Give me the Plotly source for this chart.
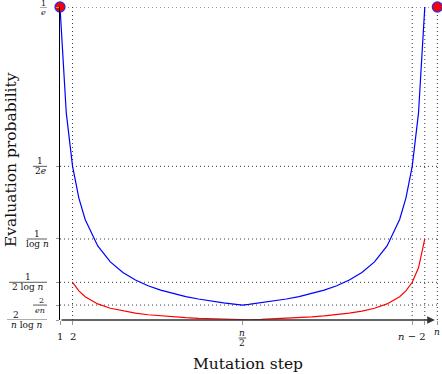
import plotly.graph_objects as go

# mutation steps (n = 31, "log n" drawn as 10)
steps_blue = [1, 1.5, 2, 2.5, 3, 4, 5, 6, 7, 8, 9, 10, 11, 12, 13, 14, 15, 15.5,
              16, 17, 18, 19, 20, 21, 22, 23, 24, 25, 26, 27, 28, 28.5, 29, 29.5, 30]
prob_blue = [0.3679, 0.2453, 0.1839, 0.1472, 0.1226, 0.0920, 0.0736, 0.0613, 0.0526,
             0.0460, 0.0409, 0.0368, 0.0334, 0.0307, 0.0283, 0.0263, 0.0245, 0.0237,
             0.0245, 0.0263, 0.0283, 0.0307, 0.0334, 0.0368, 0.0409, 0.0460, 0.0526,
             0.0613, 0.0736, 0.0920, 0.1226, 0.1472, 0.1839, 0.2453, 0.3679]

steps_red = [2, 2.5, 3, 4, 5, 6, 7, 8, 9, 10, 11, 12, 13, 14, 15, 15.5,
             16, 17, 18, 19, 20, 21, 22, 23, 24, 25, 26, 27, 28, 28.5, 29, 29.5, 30]
prob_red = [0.0500, 0.0400, 0.0333, 0.0250, 0.0200, 0.0167, 0.0143, 0.0125, 0.0111,
            0.0100, 0.0091, 0.0083, 0.0077, 0.0071, 0.0067, 0.0065,
            0.0067, 0.0071, 0.0077, 0.0083, 0.0091, 0.0100, 0.0111, 0.0125, 0.0143,
            0.0167, 0.0200, 0.0250, 0.0333, 0.0400, 0.0500, 0.0667, 0.1000]

endpoint_steps = [1, 31]
endpoint_probs = [0.3679, 0.3679]

# y ticks: value, numerator, denominator
y_ticks = [0.3679, 0.1839, 0.1, 0.05, 0.0237, 0.00645]
y_nums = ["1", "1", "1", "1", "2", "2"]
y_dens = ["<i>e</i>", "2<i>e</i>", "log <i>n</i>", "2 log <i>n</i>", "<i>en</i>", "<i>n</i> log <i>n</i>"]

x_ticks = [1, 2, 15.5, 29, 30, 31]
x_grid = [2, 29, 30, 31]
y_grid = [0.3679, 0.1839, 0.1, 0.05, 0.0237]

X0, X1 = 1, 31.05
Y0, Y1 = 0.00645, 0.3679
L, R, T, B = 60, 4, 7, 54
W, H = 442, 374
PW = W - L - R
FONT = "DejaVu Serif"


def px(x):
    return (x - L) / PW


fig = go.Figure()
fig.add_trace(go.Scatter(x=steps_blue, y=prob_blue, mode="lines",
                         line=dict(color="#0000ff", width=1.2)))
fig.add_trace(go.Scatter(x=steps_red, y=prob_red, mode="lines",
                         line=dict(color="#ff0000", width=1.2)))
fig.add_trace(go.Scatter(x=endpoint_steps, y=endpoint_probs, mode="markers", cliponaxis=False,
                         marker=dict(color="#ff0000", size=10,
                                     line=dict(color="#3a2bd6", width=1.3))))

dot = dict(color="#333", width=1, dash="1px,3px")
for v in y_grid:
    fig.add_shape(type="line", x0=X0, x1=31, y0=v, y1=v, xref="x", yref="y",
                  line=dot, layer="below")
for s in x_grid:
    fig.add_shape(type="line", x0=s, x1=s, y0=Y0, y1=Y1, xref="x", yref="y",
                  line=dot, layer="below")

# x axis with arrow
fig.add_annotation(x=30.8, y=Y0, ax=X0, ay=Y0, xref="x", yref="y", axref="x", ayref="y",
                   text="", showarrow=True, arrowhead=2, arrowsize=1.1,
                   arrowwidth=1.4, arrowcolor="#333")

# y tick fractions (pixel layout of each label)
frac_layout = [  # centre x of num, centre x of den, bar x0, bar x1, font size, num shift
    (43.5, 43.5, 40, 47, 8, 4),
    (40, 40, 33, 47, 9, 5),
    (37, 37, 27, 47, 9, 5),
    (28, 28, 9, 47, 9, 5),
    (41, 40, 33, 47, 8, 5),
    (16, 27, 7, 47, 9, 5),
]
for v, num, den, (nx, dx, b0, b1, fs, ns) in zip(y_ticks, y_nums, y_dens, frac_layout):
    f = dict(family=FONT, size=fs, color="#111")
    fig.add_annotation(x=px(nx), y=v, xref="paper", yref="y", text=num, showarrow=False,
                       xanchor="center", yanchor="middle", yshift=ns, font=f)
    fig.add_annotation(x=px(dx), y=v, xref="paper", yref="y", text=den, showarrow=False,
                       xanchor="center", yanchor="middle", yshift=-5, font=f)
    fig.add_shape(type="line", x0=px(b0), x1=px(b1), y0=v, y1=v, xref="paper", yref="y",
                  line=dict(color="#111", width=0.7))

# x tick labels
tf = dict(family=FONT, size=10, color="#111")
fig.add_annotation(x=1, y=0, xref="x", yref="paper", text="1", showarrow=False,
                   yanchor="middle", yshift=-16, font=tf)
fig.add_annotation(x=2, y=0, xref="x", yref="paper", text="2", showarrow=False,
                   yanchor="middle", yshift=-16, font=tf)
fig.add_annotation(x=29, y=0, xref="x", yref="paper", text="<i>n</i> − 2", showarrow=False,
                   yanchor="middle", yshift=-16, font=tf)
fig.add_annotation(x=31, y=0, xref="x", yref="paper", text="<i>n</i>", showarrow=False,
                   yanchor="middle", yshift=-12, font=dict(family=FONT, size=9, color="#111"))
fig.add_annotation(x=15.5, y=0, xref="x", yref="paper", text="<i>n</i>", showarrow=False,
                   yanchor="middle", yshift=-13, font=dict(family=FONT, size=9, color="#111"))
fig.add_annotation(x=15.5, y=0, xref="x", yref="paper", text="2", showarrow=False,
                   yanchor="middle", yshift=-23, font=dict(family=FONT, size=9, color="#111"))
fig.add_shape(type="line", x0=15.2, x1=15.8, y0=-18 / 313, y1=-18 / 313, xref="x", yref="paper",
              line=dict(color="#111", width=0.7))

# axis titles
fig.add_annotation(x=px(248), y=-44 / 313, xref="paper", yref="paper", text="Mutation step",
                   showarrow=False, yanchor="middle", font=dict(family=FONT, size=15.5, color="#111"))
fig.add_annotation(x=px(11), y=(320 - 160) / 313, xref="paper", yref="paper",
                   text="Evaluation probability", textangle=-90, showarrow=False,
                   xanchor="center", yanchor="middle", font=dict(family=FONT, size=15.5, color="#111"))

fig.update_xaxes(range=[X0, X1], showgrid=False, zeroline=False, showline=False,
                 tickvals=x_ticks, ticks="outside", ticklen=4, tickcolor="#999",
                 showticklabels=False)
fig.update_yaxes(range=[Y0, Y1], showgrid=False, zeroline=False, showline=True,
                 linecolor="#000", linewidth=1.3, tickvals=y_ticks, ticks="outside",
                 ticklen=3, tickcolor="#999", showticklabels=False)
fig.update_layout(width=W, height=H, margin=dict(l=L, r=R, t=T, b=B),
                  paper_bgcolor="white", plot_bgcolor="white", showlegend=False)

fig.write_html("out.html", config={"displayModeBar": False},
               post_script="document.body.style.margin='0';document.body.style.overflow='hidden';")
